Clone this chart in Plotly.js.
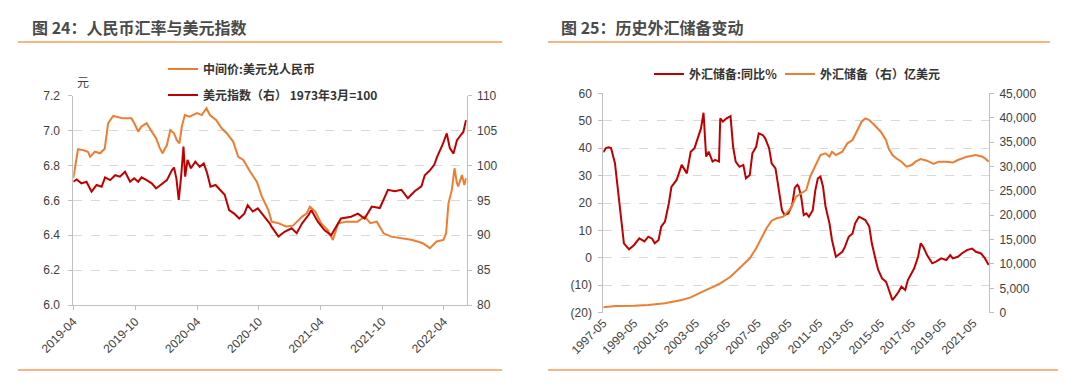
<!DOCTYPE html>
<html><head><meta charset="utf-8">
<script src="https://cdn.plot.ly/plotly-3.0.1.min.js"></script>
<style>html,body{margin:0;padding:0;background:#fff}#chart{width:1080px;height:391px}</style>
</head><body><div id="chart"></div>
<script>
// ===== Chart 24: CNY central parity & US dollar index =====
const cnyDates = ['2019-04-01','2019-04-09','2019-04-15','2019-04-30','2019-05-14','2019-05-21','2019-06-04','2019-06-19','2019-07-03','2019-07-13','2019-07-28','2019-08-26','2019-09-20','2019-10-01','2019-10-10','2019-10-19','2019-11-04','2019-11-19','2019-12-02','2019-12-13','2019-12-21','2020-01-03','2020-01-13','2020-01-24','2020-02-01','2020-02-09','2020-02-16','2020-02-25','2020-03-10','2020-04-01','2020-04-15','2020-04-29','2020-05-09','2020-05-28','2020-06-13','2020-06-28','2020-07-17','2020-08-01','2020-08-16','2020-09-05','2020-09-25','2020-10-10','2020-10-19','2020-10-29','2020-11-08','2020-11-28','2020-12-20','2021-01-10','2021-02-06','2021-02-20','2021-03-01','2021-03-17','2021-04-03','2021-04-23','2021-05-08','2021-05-24','2021-06-20','2021-07-20','2021-08-10','2021-08-27','2021-09-15','2021-10-05','2021-10-28','2021-11-29','2021-12-30','2022-01-29','2022-02-19','2022-03-11','2022-03-31','2022-04-08','2022-04-15','2022-04-25','2022-05-03','2022-05-10','2022-05-14','2022-05-25','2022-06-01','2022-06-06'];
const cnyVals = [6.727,6.822,6.893,6.888,6.879,6.850,6.879,6.870,6.896,7.042,7.084,7.070,7.070,7.032,6.994,7.022,7.042,6.994,6.956,6.899,6.870,6.917,7.003,6.984,6.946,6.927,7.022,7.089,7.080,7.100,7.089,7.128,7.089,7.060,7.013,6.985,6.937,6.850,6.832,6.765,6.707,6.621,6.583,6.545,6.478,6.469,6.450,6.455,6.507,6.526,6.564,6.535,6.469,6.430,6.373,6.469,6.478,6.478,6.507,6.469,6.478,6.411,6.392,6.383,6.373,6.354,6.326,6.364,6.373,6.410,6.583,6.660,6.784,6.698,6.680,6.745,6.688,6.727];

const dxyDates = ['2019-04-01','2019-04-11','2019-04-25','2019-05-10','2019-05-25','2019-06-09','2019-06-24','2019-07-04','2019-07-19','2019-08-03','2019-08-17','2019-09-01','2019-09-16','2019-09-28','2019-10-10','2019-10-20','2019-11-04','2019-11-19','2019-12-02','2019-12-16','2020-01-03','2020-01-18','2020-01-24','2020-01-31','2020-02-07','2020-02-14','2020-02-21','2020-02-26','2020-03-04','2020-03-14','2020-03-27','2020-04-09','2020-04-21','2020-05-01','2020-05-11','2020-05-26','2020-06-10','2020-06-22','2020-07-05','2020-07-20','2020-08-04','2020-08-19','2020-08-29','2020-09-13','2020-09-28','2020-10-13','2020-10-19','2020-11-02','2020-11-08','2020-11-28','2020-12-16','2021-01-06','2021-01-21','2021-02-06','2021-02-25','2021-03-05','2021-03-25','2021-04-13','2021-05-03','2021-06-01','2021-07-01','2021-07-21','2021-08-10','2021-08-31','2021-09-24','2021-10-18','2021-11-07','2021-11-27','2021-12-16','2022-01-05','2022-01-25','2022-02-04','2022-02-19','2022-03-04','2022-03-13','2022-03-28','2022-04-10','2022-04-19','2022-04-30','2022-05-10','2022-05-22','2022-05-29','2022-06-06'];
const dxyVals = [97.67,98.0,97.44,97.67,96.24,97.2,96.96,98.3,97.9,98.6,98.4,99.1,97.67,98.16,97.67,98.3,97.9,97.44,96.7,97.2,97.9,99.35,99.7,98.16,95.05,98.4,102.7,98.4,100.8,99.6,100.54,99.8,100.3,98.9,96.96,97.2,96.5,95.8,93.6,93.1,92.4,93.1,94.3,93.4,93.86,92.9,92.66,91.7,91.2,89.8,90.5,91.0,90.3,91.7,92.9,93.6,91.9,90.75,90.0,92.4,92.66,93.1,92.4,94.1,93.9,96.5,96.3,96.5,95.3,96.3,97.0,98.6,99.3,100.1,101.3,102.9,104.6,102.5,101.7,103.6,104.4,104.8,106.5];

const leftTickDates = ['2019-04-01','2019-10-01','2020-04-01','2020-10-01','2021-04-01','2021-10-01','2022-04-01'];
const leftTickText  = ['2019-04','2019-10','2020-04','2020-10','2021-04','2021-10','2022-04'];

// ===== Chart 25: FX reserves =====
const yoyDates = ['1997-05','1997-07','1997-09','1997-11','1998-02','1998-04','1998-07','1998-09','1999-01','1999-05','1999-09','2000-01','2000-04','2000-07','2000-09','2000-12','2001-02','2001-05','2001-08','2001-10','2002-02','2002-06','2002-10','2003-01','2003-04','2003-06','2003-09','2003-11','2004-01','2004-03','2004-06','2004-08','2004-11','2004-12','2005-02','2005-05','2005-08','2005-10','2005-12','2006-03','2006-06','2006-08','2006-11','2007-01','2007-04','2007-06','2007-09','2007-11','2008-02','2008-04','2008-07','2008-09','2008-12','2009-02','2009-05','2009-08','2009-10','2009-12','2010-01','2010-03','2010-05','2010-07','2010-09','2010-12','2011-02','2011-04','2011-06','2011-08','2011-10','2012-01','2012-03','2012-06','2012-08','2012-11','2013-01','2013-04','2013-07','2013-09','2013-12','2014-02','2014-05','2014-08','2014-10','2015-01','2015-03','2015-06','2015-09','2015-10','2015-12','2016-02','2016-04','2016-07','2016-09','2016-12','2017-02','2017-05','2017-07','2017-10','2017-12','2018-02','2018-05','2018-09','2018-12','2019-04','2019-08','2019-11','2020-01','2020-05','2020-08','2020-12','2021-04','2021-07','2021-11','2022-02','2022-05'];
const yoyVals = [38.5,40.0,40.3,40.0,34.5,26.0,15.0,5.3,3.1,4.7,7.1,6.0,7.7,7.0,5.3,6.5,11.4,13.2,19.9,25.9,28.4,33.9,30.8,38.7,40.0,43.0,47.2,52.9,36.9,38.7,35.1,35.7,35.1,50.9,49.7,50.9,51.7,40.5,35.1,33.2,33.9,29.0,30.2,38.1,40.5,45.4,44.8,43.6,40.0,34.5,32.6,26.6,17.4,15.6,16.2,19.3,25.5,26.6,26.0,22.3,15.6,16.2,15.0,17.4,24.7,29.0,29.6,26.0,18.6,12.6,6.5,0.4,1.0,2.2,4.0,7.7,8.9,12.6,15.0,14.4,13.8,11.4,5.3,-0.8,-4.4,-7.5,-8.7,-9.9,-12.9,-15.4,-14.2,-12.3,-10.5,-11.7,-8.1,-5.6,-3.8,0.4,5.3,4.0,1.0,-2.0,-1.4,-0.2,-0.8,1.0,-0.2,0.4,1.6,2.8,3.4,2.2,1.6,-0.2,-2.6];

const resDates = ['1997-05','1998-03','1999-05','2000-04','2001-05','2002-06','2003-01','2003-06','2004-02','2004-07','2004-12','2005-08','2006-03','2006-11','2007-04','2007-09','2007-12','2008-04','2008-08','2009-01','2009-05','2009-07','2009-11','2010-03','2010-07','2010-10','2011-02','2011-06','2011-10','2012-01','2012-03','2012-06','2012-11','2013-03','2013-07','2013-10','2014-02','2014-05','2014-08','2014-12','2015-05','2015-09','2015-11','2016-02','2016-05','2016-09','2017-01','2017-05','2017-08','2017-12','2018-05','2018-10','2019-02','2019-08','2020-01','2020-05','2020-08','2020-12','2021-03','2021-07','2021-12','2022-02','2022-05'];
const resVals = [1110,1370,1440,1580,1930,2600,3150,3830,4790,5330,6030,7380,9100,11160,13210,15590,17310,18870,19360,19690,20900,21410,23790,24490,25170,27890,30290,32340,32690,32000,33020,32340,33020,34740,35420,37120,39170,39870,39520,38500,37120,35420,33720,32340,31670,30970,29950,30290,30970,31520,31170,30500,30970,30970,30800,31320,31670,32000,32130,32340,32000,31670,30970];

const rightTickDates = ['1997-05-01','1999-05-01','2001-05-01','2003-05-01','2005-05-01','2007-05-01','2009-05-01','2011-05-01','2013-05-01','2015-05-01','2017-05-01','2019-05-01','2021-05-01'];
const rightTickText  = ['1997-05','1999-05','2001-05','2003-05','2005-05','2007-05','2009-05','2011-05','2013-05','2015-05','2017-05','2019-05','2021-05'];
const yoyTickVals = [-20,-10,0,10,20,30,40,50,60];
const yoyTickText = ['(20)','(10)','0','10','20','30','40','50','60'];

const W = 1080, H = 391;
const px = x => x / W;
const py = y => 1 - y / H;

const RED = '#C00000', ORANGE = '#ED7D31';
const FONT = 'Liberation Sans, Arial, Noto Sans CJK SC, sans-serif';
const CJK = 'Noto Sans CJK SC, Liberation Sans, sans-serif';
const AX = '#bfbfbf', TXT = '#404040';

const traces = [
  {x: cnyDates, y: cnyVals, type: 'scatter', mode: 'lines', name: '中间价:美元兑人民币',
   line: {color: ORANGE, width: 2}, xaxis: 'x', yaxis: 'y', legend: 'legend'},
  {x: dxyDates, y: dxyVals, type: 'scatter', mode: 'lines', name: '美元指数（右） 1973年3月=100',
   line: {color: RED, width: 2}, xaxis: 'x', yaxis: 'y2', legend: 'legend2'},
  {x: yoyDates, y: yoyVals, type: 'scatter', mode: 'lines', name: '外汇储备:同比％',
   line: {color: RED, width: 2}, xaxis: 'x2', yaxis: 'y3', legend: 'legend3'},
  {x: resDates, y: resVals, type: 'scatter', mode: 'lines', name: '外汇储备（右）亿美元',
   line: {color: ORANGE, width: 2}, xaxis: 'x2', yaxis: 'y4', legend: 'legend4'}
];

const tickFont = {family: FONT, size: 12, color: TXT};
const legFont = {family: CJK, size: 12, color: '#333', weight: 'bold'};
const legBase = {orientation: 'h', xanchor: 'left', yanchor: 'middle', bgcolor: 'rgba(0,0,0,0)', font: legFont, itemwidth: 30, borderwidth: 0};

const leftY = [305, 95.7], rightY = [312.7, 93.3];

const layout = {
  width: W, height: H,
  margin: {l: 0, r: 0, t: 0, b: 0},
  paper_bgcolor: '#fff', plot_bgcolor: '#fff',
  showlegend: true,
  font: {family: FONT, color: TXT, size: 12},
  xaxis: {domain: [px(73.3), px(466.7)], anchor: 'y', type: 'date',
    range: ['2019-04-01', '2022-06-08'], tickvals: leftTickDates, ticktext: leftTickText,
    tickangle: -45, tickfont: tickFont, showline: true, linecolor: AX, linewidth: 1,
    ticks: 'outside', ticklen: 4, tickcolor: AX, showgrid: false, zeroline: false},
  yaxis: {domain: [py(leftY[0]), py(leftY[1])], anchor: 'x', range: [6.0, 7.2], dtick: 0.2, tick0: 6.0,
    tickformat: '.1f', tickfont: tickFont, showline: true, linecolor: AX, ticks: 'outside', ticklen: 4, tickcolor: AX,
    ticklabelstandoff: 6,
    showgrid: true, gridcolor: '#d9d9d9', griddash: 'dash', zeroline: false},
  yaxis2: {overlaying: 'y', side: 'right', anchor: 'x', range: [80, 110], dtick: 5, tick0: 80,
    tickfont: tickFont, showline: true, linecolor: AX, ticks: 'outside', ticklen: 4, tickcolor: AX,
    ticklabelstandoff: 3,
    showgrid: false, zeroline: false},
  xaxis2: {domain: [px(603.3), px(989)], anchor: 'y3', type: 'date',
    range: ['1997-05-01', '2022-05-08'], tickvals: rightTickDates, ticktext: rightTickText,
    tickangle: -45, tickfont: tickFont, showline: false, ticks: '', showgrid: false, zeroline: false},
  xaxis3: {overlaying: 'x2', anchor: 'free', position: py(258.3), type: 'date',
    range: ['1997-05-01', '2022-05-08'], tickvals: rightTickDates, showticklabels: false,
    showline: true, linecolor: AX, linewidth: 1, ticks: 'outside', ticklen: 4, tickcolor: AX, showgrid: false, zeroline: false},
  yaxis3: {domain: [py(rightY[0]), py(rightY[1])], anchor: 'x2', range: [-20, 60],
    tickvals: yoyTickVals, ticktext: yoyTickText, tickfont: tickFont,
    showline: true, linecolor: AX, ticks: 'outside', ticklen: 4, tickcolor: AX,
    ticklabelstandoff: 4,
    showgrid: true, gridcolor: '#d9d9d9', griddash: 'dash', zeroline: false},
  yaxis4: {overlaying: 'y3', side: 'right', anchor: 'x2', range: [0, 45000], dtick: 5000, tick0: 0,
    tickformat: ',', tickfont: tickFont, showline: true, linecolor: AX, ticks: 'outside', ticklen: 4, tickcolor: AX,
    ticklabelstandoff: 3,
    showgrid: false, zeroline: false},
  legend:  Object.assign({}, legBase, {x: px(163), y: py(69)}),
  legend2: Object.assign({}, legBase, {x: px(163), y: py(95)}),
  legend3: Object.assign({}, legBase, {x: px(649), y: py(74)}),
  legend4: Object.assign({}, legBase, {x: px(780), y: py(74)}),
  shapes: [
    {type: 'line', xref: 'paper', yref: 'paper', x0: px(18), x1: px(502), y0: py(42), y1: py(42), line: {color: '#F8B584', width: 2}},
    {type: 'line', xref: 'paper', yref: 'paper', x0: px(548), x1: px(1050), y0: py(42), y1: py(42), line: {color: '#F8B584', width: 2}},
    {type: 'line', xref: 'paper', yref: 'paper', x0: px(18), x1: px(502), y0: py(370), y1: py(370), line: {color: '#F8B584', width: 2}},
    {type: 'line', xref: 'paper', yref: 'paper', x0: px(548), x1: px(1058), y0: py(370), y1: py(370), line: {color: '#F8B584', width: 2}}
  ],
  annotations: [
    {xref: 'paper', yref: 'paper', x: px(30), y: py(27), xanchor: 'left', yanchor: 'middle', showarrow: false,
     text: '图 24：人民币汇率与美元指数', font: {family: CJK, size: 16, color: '#4a4a4a', weight: 'bold'}},
    {xref: 'paper', yref: 'paper', x: px(559), y: py(27), xanchor: 'left', yanchor: 'middle', showarrow: false,
     text: '图 25：历史外汇储备变动', font: {family: CJK, size: 16, color: '#4a4a4a', weight: 'bold'}},
    {xref: 'paper', yref: 'paper', x: px(83), y: py(81), xanchor: 'center', yanchor: 'middle', showarrow: false,
     text: '元', font: {family: CJK, size: 12, color: TXT}}
  ]
};

Plotly.newPlot('chart', traces, layout, {displayModeBar: false, staticPlot: true});
</script></body></html>
